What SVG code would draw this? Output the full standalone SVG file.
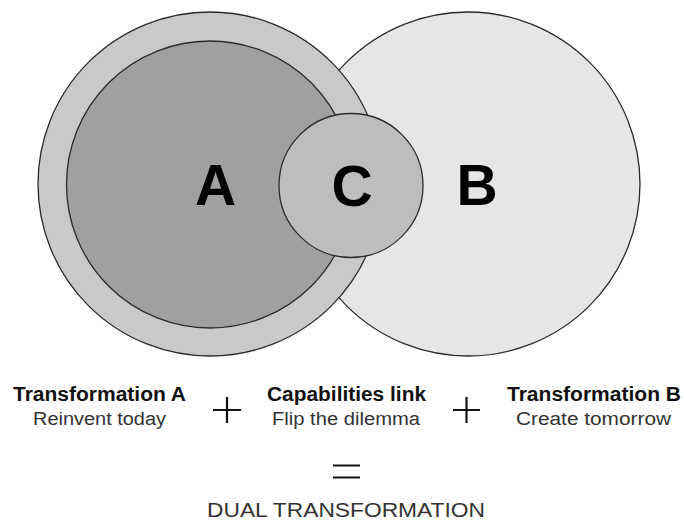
<svg xmlns="http://www.w3.org/2000/svg" width="684" height="521" viewBox="0 0 684 521">
<style>
.c{stroke:#2a2a2a;stroke-width:1.3}
.big{font-family:"Liberation Sans",Arial,sans-serif;font-weight:bold;font-size:57px;fill:#000;text-anchor:middle}
.h{font-family:"Liberation Sans",Arial,sans-serif;font-weight:bold;font-size:20px;fill:#111;text-anchor:middle}
.s{font-family:"Liberation Sans",Arial,sans-serif;font-size:18px;fill:#333;text-anchor:middle}
.op{stroke:#111;stroke-width:2.2;fill:none}
</style>
<rect width="684" height="521" fill="#fff"/>
<g id="nodeB">
<circle class="c" cx="468" cy="184" r="172" fill="#e6e6e6"/>
<text class="big" x="477" y="205">B</text>
</g>
<g id="nodeA">
<circle class="c" cx="210" cy="184" r="172" fill="#c9c9c9"/>
<circle class="c" cx="210" cy="184.5" r="143.5" fill="#a0a0a0"/>
<text class="big" x="215.5" y="205">A</text>
</g>
<g id="nodeC">
<circle class="c" cx="351" cy="185.5" r="72" fill="#bdbdbd"/>
<text class="big" x="352" y="206">C</text>
</g>
<g id="connectors">
<path class="op" d="M213 410H241M227 397V423"/>
<path class="op" d="M453 410H480M466.5 397V423"/>
<path class="op" d="M333 465.5H360M333 477.5H360"/>
</g>
<g id="labelA">
<text class="h" x="99.5" y="401" textLength="173" lengthAdjust="spacingAndGlyphs">Transformation A</text>
<text class="s" x="99.5" y="425" textLength="133" lengthAdjust="spacingAndGlyphs">Reinvent today</text>
</g>
<g id="labelC">
<text class="h" x="346.5" y="401" textLength="159" lengthAdjust="spacingAndGlyphs">Capabilities link</text>
<text class="s" x="346" y="425" textLength="148" lengthAdjust="spacingAndGlyphs">Flip the dilemma</text>
</g>
<g id="labelB">
<text class="h" x="594" y="401" textLength="174" lengthAdjust="spacingAndGlyphs">Transformation B</text>
<text class="s" x="593.5" y="425" textLength="155" lengthAdjust="spacingAndGlyphs">Create tomorrow</text>
</g>
<g id="result">
<text class="s" x="346" y="517" style="font-size:21px" textLength="278" lengthAdjust="spacingAndGlyphs">DUAL TRANSFORMATION</text>
</g>
</svg>
